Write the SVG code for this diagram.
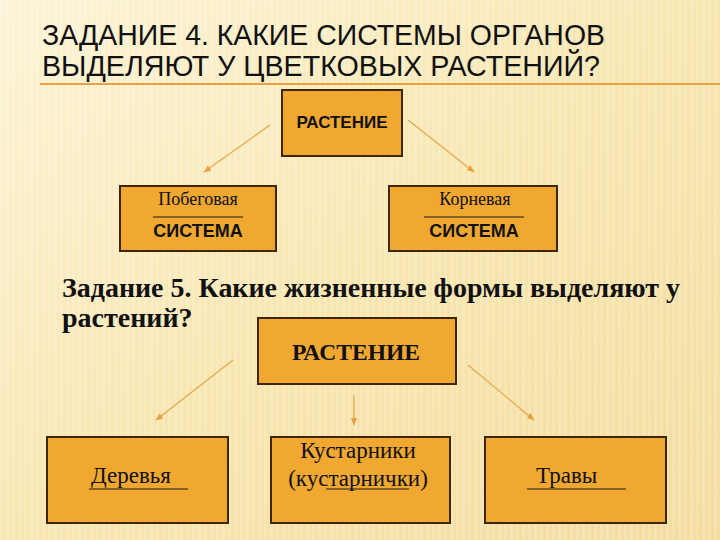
<svg xmlns="http://www.w3.org/2000/svg" width="720" height="540" viewBox="0 0 720 540">
<defs>
<linearGradient id="bg" x1="0" y1="0" x2="1" y2="1">
<stop offset="0" stop-color="#fdf3d6"/>
<stop offset="0.5" stop-color="#f8e6b0"/>
<stop offset="1" stop-color="#f3dc9e"/>
</linearGradient>
<pattern id="stripes" width="6" height="540" patternUnits="userSpaceOnUse">
<rect width="3" height="540" fill="#ffffff" opacity="0.18"/>
</pattern>
<marker id="ah" viewBox="0 0 10 10" refX="9" refY="5" markerWidth="6" markerHeight="6" orient="auto">
<path d="M0,1 L10,5 L0,9 z" fill="#e8a040"/>
</marker>
<style>
.box{fill:#f0a830;stroke:#3d2708;stroke-width:2}
.conn{stroke:#e8a94a;stroke-width:1.3;fill:none;marker-end:url(#ah)}
.sans{font-family:"Liberation Sans",Arial,sans-serif}
.serif{font-family:"Liberation Serif","Times New Roman",serif}
.bserif{font-family:"Liberation Serif","Times New Roman",serif;font-weight:bold;fill:#111}
.ul{stroke:#1a1a1a;stroke-width:1}
</style>
</defs>
<rect width="720" height="540" fill="url(#bg)"/>
<rect width="720" height="540" fill="url(#stripes)"/>
<line x1="40" y1="84" x2="720" y2="84" stroke="#e8a040" stroke-width="2"/>
<g id="title" class="sans" fill="#111">
<text x="42" y="45" font-size="29" textLength="563" lengthAdjust="spacingAndGlyphs">ЗАДАНИЕ 4. КАКИЕ СИСТЕМЫ ОРГАНОВ</text>
<text x="42" y="76" font-size="29" textLength="558" lengthAdjust="spacingAndGlyphs">ВЫДЕЛЯЮТ У ЦВЕТКОВЫХ РАСТЕНИЙ?</text>
</g>
<g id="task5" font-size="28">
<text class="bserif" x="62" y="297" textLength="618" lengthAdjust="spacingAndGlyphs">Задание 5. Какие жизненные формы выделяют у</text>
<text class="bserif" x="62" y="327">растений?</text>
</g>
<g id="connectors">
<line class="conn" x1="270" y1="125" x2="204" y2="172"/>
<line class="conn" x1="408" y1="120" x2="474" y2="172"/>
<line class="conn" x1="233" y1="360" x2="156" y2="420"/>
<line class="conn" x1="354" y1="395" x2="354" y2="425"/>
<line class="conn" x1="468" y1="365" x2="534" y2="420"/>
</g>
<g id="plant1">
<rect class="box" x="282" y="90" width="120" height="66"/>
<text class="sans" x="342" y="128" font-size="17" font-weight="bold" text-anchor="middle" fill="#111">РАСТЕНИЕ</text>
</g>
<g id="shoot">
<rect class="box" x="120" y="186" width="156" height="65"/>
<text class="serif" x="198" y="205" font-size="18" text-anchor="middle" fill="#111">Побеговая</text>
<line class="ul" x1="153" y1="217" x2="243" y2="217"/>
<text class="sans" x="198" y="237" font-size="18" font-weight="bold" text-anchor="middle" fill="#111">СИСТЕМА</text>
</g>
<g id="root">
<rect class="box" x="389" y="186" width="168" height="65"/>
<text class="serif" x="475" y="205" font-size="18" text-anchor="middle" fill="#111">Корневая</text>
<line class="ul" x1="424" y1="217" x2="524" y2="217"/>
<text class="sans" x="474" y="237" font-size="18" font-weight="bold" text-anchor="middle" fill="#111">СИСТЕМА</text>
</g>
<g id="plant2">
<rect class="box" x="258" y="318" width="198" height="66"/>
<text class="bserif" x="356" y="360" font-size="23" text-anchor="middle" textLength="128" lengthAdjust="spacingAndGlyphs">РАСТЕНИЕ</text>
</g>
<g id="trees">
<rect class="box" x="47" y="437" width="181" height="86"/>
<text class="serif" x="91" y="483" font-size="23" fill="#111">Деревья</text>
<line class="ul" x1="89" y1="489" x2="188" y2="489"/>
</g>
<g id="shrubs">
<rect class="box" x="271" y="437" width="179" height="86"/>
<text class="serif" x="358" y="458" font-size="23" text-anchor="middle" fill="#111">Кустарники</text>
<text class="serif" x="358" y="486" font-size="23" text-anchor="middle" fill="#111">(кустарнички)</text>
<line class="ul" x1="326" y1="489" x2="409" y2="489"/>
</g>
<g id="grass">
<rect class="box" x="485" y="437" width="181" height="86"/>
<text class="serif" x="536" y="483" font-size="23" fill="#111">Травы</text>
<line class="ul" x1="527" y1="489" x2="626" y2="489"/>
</g>
</svg>
